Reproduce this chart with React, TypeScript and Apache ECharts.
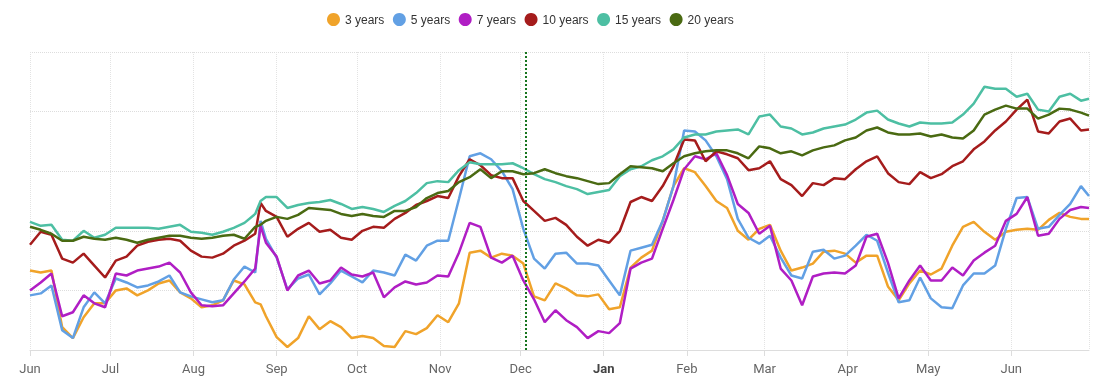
import React, { useEffect, useRef } from "react";
import * as echarts from "echarts";

const dates: string[] = [
  "2023-06-01","2023-06-05","2023-06-09","2023-06-13","2023-06-17","2023-06-21","2023-06-25","2023-06-29","2023-07-03","2023-07-07",
  "2023-07-11","2023-07-15","2023-07-19","2023-07-23","2023-07-27","2023-07-31","2023-08-04","2023-08-08","2023-08-12","2023-08-16",
  "2023-08-20","2023-08-24","2023-08-26","2023-08-28","2023-09-01","2023-09-05","2023-09-09","2023-09-13","2023-09-17","2023-09-21","2023-09-25",
  "2023-09-29","2023-10-03","2023-10-07","2023-10-11","2023-10-15","2023-10-19","2023-10-23","2023-10-27","2023-10-31","2023-11-04",
  "2023-11-08","2023-11-12","2023-11-16","2023-11-20","2023-11-24","2023-11-28","2023-12-02","2023-12-06","2023-12-10","2023-12-14",
  "2023-12-18","2023-12-22","2023-12-26","2023-12-30","2024-01-03","2024-01-07","2024-01-11","2024-01-15","2024-01-19","2024-01-23",
  "2024-01-27","2024-01-31","2024-02-04","2024-02-08","2024-02-12","2024-02-16","2024-02-20","2024-02-24","2024-02-28","2024-03-03",
  "2024-03-07","2024-03-11","2024-03-15","2024-03-19","2024-03-23","2024-03-27","2024-03-31","2024-04-04","2024-04-08","2024-04-12",
  "2024-04-16","2024-04-20","2024-04-24","2024-04-28","2024-05-02","2024-05-06","2024-05-10","2024-05-14","2024-05-18","2024-05-22",
  "2024-05-26","2024-05-30","2024-06-03","2024-06-07","2024-06-11","2024-06-15","2024-06-19","2024-06-23","2024-06-27","2024-06-30",
];

const years3: number[] = [
  80,78,80,23,12,33,47,47,60,62,
  55,60,67,70,58,52,43,45,50,70,
  66,48,46,34,13,3,12,34,21,29,23,
  12,14,12,4,3,19,16,22,35,28,
  47,98,100,93,97,95,87,54,50,67,
  62,55,54,56,41,43,83,93,100,130,
  165,183,179,165,150,143,120,111,122,126,
  100,80,83,87,99,100,97,88,95,95,
  64,50,67,80,76,82,105,124,129,119,
  111,119,121,122,121,131,138,134,132,132,
];

const years5: number[] = [
  55,57,65,20,12,43,58,47,72,68,
  63,65,69,75,58,54,51,48,50,71,
  84,78,130,112,93,61,72,76,56,67,80,
  74,68,80,78,75,96,90,105,110,110,
  152,195,198,192,180,162,122,92,82,97,
  98,87,87,85,70,55,100,103,106,130,
  165,221,220,211,195,172,132,113,107,115,
  93,75,72,99,101,92,95,105,116,110,
  78,48,50,73,52,43,42,65,77,77,
  85,122,153,154,122,124,136,147,165,155,
];

const years7: number[] = [
  60,68,77,34,38,55,47,43,77,75,
  80,82,84,88,78,58,45,44,45,57,
  69,82,125,108,94,60,75,80,67,70,83,
  76,74,78,53,63,69,66,68,75,74,
  98,128,124,93,88,95,70,51,28,40,
  30,23,12,19,17,27,82,88,92,122,
  151,182,195,192,198,176,147,138,117,125,
  82,70,45,74,77,78,77,85,114,117,
  88,52,70,85,70,70,83,75,90,98,
  105,130,137,154,115,117,132,141,144,143,
];

const years10: number[] = [
  106,119,116,92,88,97,85,73,90,94,
  105,109,111,112,110,100,94,93,97,105,
  110,117,148,140,134,114,122,128,119,121,113,
  111,120,124,123,132,138,146,150,155,153,
  175,192,186,176,173,173,150,140,130,133,
  126,114,105,111,108,120,149,154,150,165,
  185,212,211,190,200,197,193,181,183,190,
  172,166,155,168,166,173,172,182,190,195,
  178,169,167,179,173,177,185,190,202,210,
  221,230,242,252,220,218,230,233,221,222,
];

const years15: number[] = [
  129,125,126,111,110,120,113,116,123,123,
  123,123,122,124,126,119,118,116,119,123,
  128,137,150,154,154,143,146,148,149,151,147,
  142,144,142,139,145,150,158,168,170,169,
  181,189,187,187,187,188,183,177,172,169,
  165,162,157,159,161,175,182,185,191,195,
  202,214,217,217,220,221,222,217,235,237,
  225,223,217,219,223,225,227,232,239,241,
  232,228,225,229,228,228,229,237,248,265,
  263,263,255,258,242,240,255,258,251,253,
];

const years20: number[] = [
  124,121,117,110,110,114,112,111,113,111,
  108,111,113,115,115,113,112,113,115,116,
  112,124,126,130,134,132,136,143,142,141,137,
  135,137,135,134,140,140,144,153,158,160,
  169,174,182,173,180,180,177,178,182,178,
  175,173,170,167,168,177,185,184,183,180,
  188,195,198,200,201,201,198,193,205,203,
  198,200,196,201,204,206,211,214,221,224,
  219,217,217,218,215,217,214,213,221,237,
  242,246,243,243,233,237,243,242,239,236,
];

const seriesNames: string[] = ["3 years", "5 years", "7 years", "10 years", "15 years", "20 years"];
const seriesColors: string[] = ["#f0a32a", "#62a0e4", "#b01ec4", "#a51c1c", "#4dbfa3", "#4a6a12"];
const seriesValues: number[][] = [years3, years5, years7, years10, years15, years20];
const monthLabels: string[] = ["Jan", "Feb", "Mar", "Apr", "May", "Jun", "Jul", "Aug", "Sep", "Oct", "Nov", "Dec"];
const markerDate = "2023-12-03";
const xMin = "2023-06-01";
const xMax = "2024-06-30";

export default function App() {
  const ref = useRef<HTMLDivElement>(null);
  useEffect(() => {
    if (!ref.current) return;
    const chart = echarts.init(ref.current, null, { renderer: "svg" });
    const DAY = 24 * 3600 * 1000;
    const series = seriesNames.map((name, i) => {
      const s: any = {
        name,
        type: "line",
        data: dates.map((d, j) => [d, seriesValues[i][j]]),
        showSymbol: false,
        symbol: "none",
        lineStyle: { width: 2.5, color: seriesColors[i] },
        itemStyle: { color: seriesColors[i] },
        emphasis: { disabled: true },
      };
      if (i === 0) {
        s.markLine = {
          silent: true,
          symbol: "none",
          label: { show: false },
          lineStyle: { color: "#17751e", type: "dotted", width: 2 },
          data: [{ xAxis: markerDate }],
        };
      }
      return s;
    });
    chart.setOption({
      animation: false,
      legend: {
        data: seriesNames,
        left: 322,
        top: 8,
        icon: "circle",
        itemWidth: 13,
        itemHeight: 13,
        itemGap: 8.5,
        textStyle: { fontFamily: "'Liberation Sans', Arial, sans-serif", fontSize: 12, color: "#333" },
      },
      grid: { left: 30, right: 17, top: 52, bottom: 34, containLabel: false },
      xAxis: {
        type: "time",
        min: xMin,
        max: xMax,
        splitNumber: 13,
        minInterval: 28 * DAY,
        maxInterval: 31 * DAY,
        axisLine: { show: true, lineStyle: { color: "#ddd", width: 1 } },
        axisTick: { show: true, length: 6, lineStyle: { color: "#ddd" } },
        splitLine: { show: true, lineStyle: { color: "#e3e3e3", type: "dotted" } },
        axisLabel: {
          margin: 12,
          fontFamily: "Roboto, sans-serif",
          fontSize: 13,
          color: "#666",
          formatter: (value: number) => {
            const d = new Date(value);
            const m = monthLabels[d.getMonth()];
            return d.getMonth() === 0 ? "{b|" + m + "}" : m;
          },
          rich: {
            b: { fontWeight: "bold", fontFamily: "Roboto, sans-serif", fontSize: 13, color: "#444" },
          },
        },
      },
      yAxis: {
        type: "value",
        min: 0,
        max: 300,
        interval: 60,
        axisLabel: { show: false },
        axisLine: { show: false },
        axisTick: { show: false },
        splitLine: { show: true, lineStyle: { color: "#ddd", type: "dotted" } },
      },
      series,
    });
    return () => chart.dispose();
  }, []);
  return <div ref={ref} style={{ position: "fixed", left: 0, top: 0, width: 1106, height: 384 }} />;
}
